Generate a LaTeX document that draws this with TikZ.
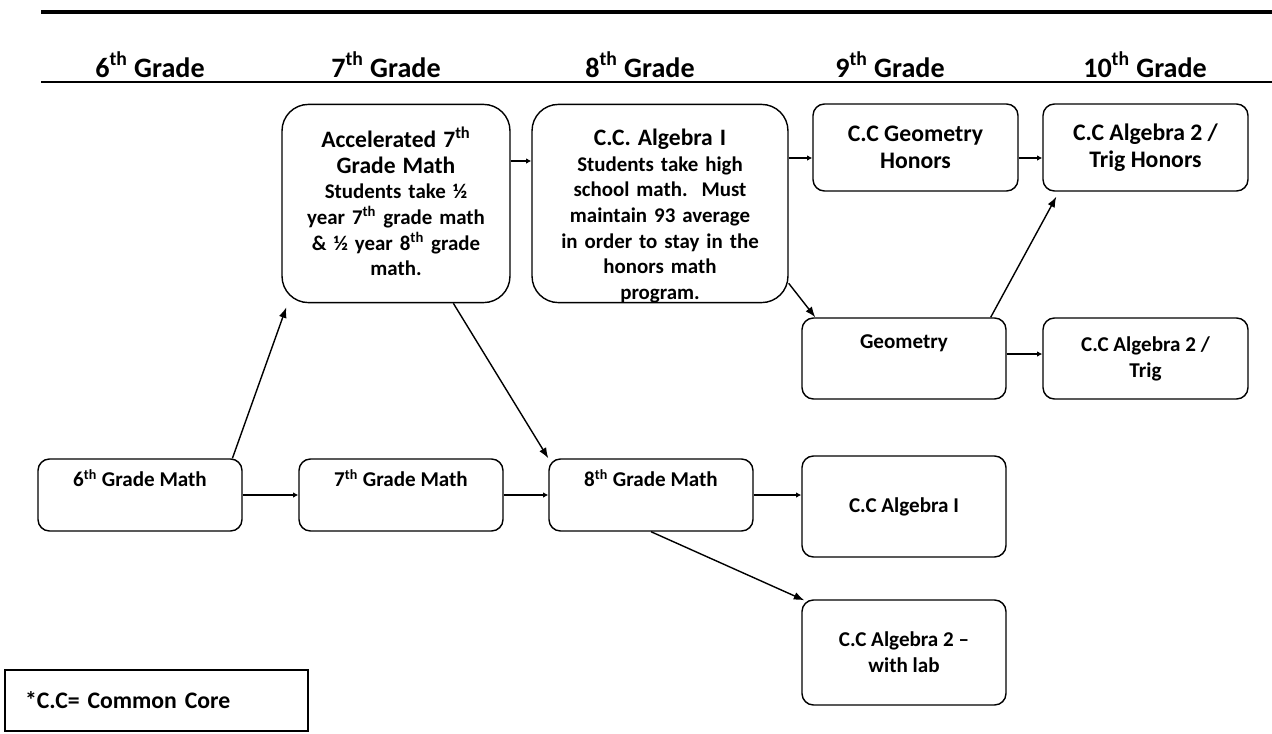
\documentclass[tikz,border=0pt]{standalone}
\usepackage{fontspec}
\setmainfont{Carlito}
\usetikzlibrary{positioning, calc, arrows.meta}

\newcommand{\ttlfont}{\fontsize{13.4}{14.8}\selectfont}
\newcommand{\txtfont}{\fontsize{11.9}{14.6}\selectfont}

\begin{document}
\begin{tikzpicture}[%
  x=0.02cm, y=-0.02cm,%
  grade/.style={font=\bfseries\fontsize{16}{19}\selectfont, inner sep=0pt, anchor=base},%
  course/.style={rectangle, draw=black, line width=0.8pt, rounded corners=6.5pt, align=center, inner sep=2pt, minimum width=4.08cm, font=\bfseries\fontsize{12}{14.7}\selectfont},%
  honors/.style={course, minimum width=4.1cm, minimum height=1.74cm, font=\bfseries\fontsize{13.5}{15.3}\selectfont},%
  bigcourse/.style={course, rounded corners=15pt, text width=4.4cm, font=\bfseries\txtfont},%
  link/.style={->, >={Latex[length=6pt,width=4.5pt]}, line width=0.8pt},%
  hop/.style={->, >={Latex[length=3pt,width=3.2pt]}, line width=1.3pt}%
]
  \useasboundingbox[fill=white] (0,0) rectangle (1272,734);

  % header rules and grade labels
  \draw[line width=2.2pt] (41,12) -- (1272,12);
  \draw[line width=1.4pt] (41,82) -- (1272,82);
  \node[grade] (h6) at (150,77) {6\textsuperscript{th} Grade};
  \node[grade] (h7) at (386,77) {7\textsuperscript{th} Grade};
  \node[grade] (h8) at (640,77) {8\textsuperscript{th} Grade};
  \node[grade] (h9) at (890,77) {9\textsuperscript{th} Grade};
  \node[grade] (h10) at (1145,77) {10\textsuperscript{th} Grade};

  % accelerated track
  \node[bigcourse, minimum width=4.56cm, text height=22.4pt, text depth=86.4pt] (acc7) at (396,203.5) {{\ttlfont Accelerated 7\textsuperscript{th}\\ Grade Math\par}Students take ½\\ year 7\textsuperscript{th} grade math\\ \& ½ year 8\textsuperscript{th} grade\\ math.};
  \node[bigcourse, minimum width=5.12cm, text height=21.4pt, text depth=87.4pt] (alg1h) at (660,203.5) {{\ttlfont C.C. Algebra I\par}Students take high\\ school math.\ \ Must\\ maintain 93 average\\ in order to stay in the\\ honors math\\ program.};
  \node[honors] (geoh) at (915.5,147.5) {C.C Geometry\\ Honors};
  \node[honors] (alg2h) at (1145.5,147.5) {C.C Algebra 2 /\\ Trig Honors};
  \node[course, minimum height=1.62cm] (geo) at (904,358.5) {Geometry\\ \strut};
  \node[course, minimum width=4.1cm, minimum height=1.62cm] (alg2) at (1145.5,358.5) {C.C Algebra 2 /\\ Trig};

  % regular track
  \node[course, minimum height=1.44cm] (m6) at (140,495) {6\textsuperscript{th} Grade Math\\ \strut};
  \node[course, minimum height=1.44cm] (m7) at (401,495) {7\textsuperscript{th} Grade Math\\ \strut};
  \node[course, minimum height=1.44cm] (m8) at (651,495) {8\textsuperscript{th} Grade Math\\ \strut};
  \node[course, minimum height=2.02cm] (alg1) at (904,506.5) {C.C Algebra I};
  \node[course, minimum height=2.1cm] (alg2lab) at (904,652.5) {C.C Algebra 2 --\\ with lab};

  % legend
  \node[draw, line width=0.9pt, minimum width=6.06cm, minimum height=1.22cm, inner xsep=0.4cm, text width=5.26cm, align=left, font=\bfseries\fontsize{13.5}{15}\selectfont] (key) at (156.5,700.5) {*C.C= Common Core};

  % connectors
  \draw[hop] (m6) -- (m7);
  \draw[hop] (m7) -- (m8);
  \draw[hop] (m8) -- (m8 -| alg1.west);
  \draw[hop] (acc7.east |- 0,161) -- (alg1h.west |- 0,161);
  \draw[hop] (alg1h.east |- 0,158) -- (geoh.west |- 0,158);
  \draw[hop] (geoh.east |- 0,158) -- (alg2h.west |- 0,158);
  \draw[hop] (geo.east |- 0,354) -- (alg2.west |- 0,354);
  \draw[link] ($(m6.north west)!0.95!(m6.north east)$) -- ($(acc7.south west)+(5,4)$);
  \draw[link] ($(acc7.south west)!0.75!(acc7.south east)$) -- (m8.north west);
  \draw[link] ($(alg1h.south east)+(0,-20)$) -- ($(geo.north west)+(14,0)$);
  \draw[link] ($(geo.north east)+(-16,0)$) -- ($(alg2h.south west)+(14,5)$);
  \draw[link] (m8.south) -- ($(alg2lab.north west)+(3,1)$);
\end{tikzpicture}
\end{document}
